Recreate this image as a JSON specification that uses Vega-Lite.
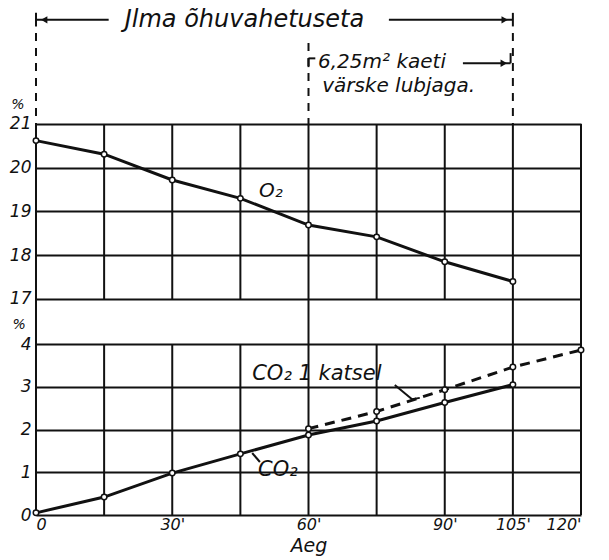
{
 "$schema": "https://vega.github.io/schema/vega-lite/v6.json",
 "width": 545,
 "height": 515,
 "autosize": "none",
 "padding": {"left": 36, "top": 0, "right": 28, "bottom": 45},
 "background": "white",
 "config": {
  "view": {"stroke": null},
  "text": {"font": "DejaVu Sans", "fontStyle": "italic", "color": "#111"},
  "axis": {"labelFont": "DejaVu Sans", "labelFontStyle": "italic", "labelColor": "#111", "labelFontSize": 16, "titleFont": "DejaVu Sans", "titleFontStyle": "italic", "titleColor": "#111", "domain": false, "ticks": false, "gridColor": "#111", "gridWidth": 2, "gridOpacity": 1}
 },
 "datasets": {
  "series": [
   {"series": "O2", "t": 0, "v": 20.62}, {"series": "O2", "t": 15, "v": 20.31}, {"series": "O2", "t": 30, "v": 19.72}, {"series": "O2", "t": 45, "v": 19.30},
   {"series": "O2", "t": 60, "v": 18.69}, {"series": "O2", "t": 75, "v": 18.42}, {"series": "O2", "t": 90, "v": 17.85}, {"series": "O2", "t": 105, "v": 17.40},
   {"series": "CO2", "t": 0, "v": 0.05}, {"series": "CO2", "t": 15, "v": 0.42}, {"series": "CO2", "t": 30, "v": 0.98}, {"series": "CO2", "t": 45, "v": 1.43},
   {"series": "CO2", "t": 60, "v": 1.87}, {"series": "CO2", "t": 75, "v": 2.2}, {"series": "CO2", "t": 90, "v": 2.63}, {"series": "CO2", "t": 105, "v": 3.05},
   {"series": "CO2 1 katsel", "t": 60, "v": 2.02}, {"series": "CO2 1 katsel", "t": 75, "v": 2.42}, {"series": "CO2 1 katsel", "t": 90, "v": 2.93},
   {"series": "CO2 1 katsel", "t": 105, "v": 3.46}, {"series": "CO2 1 katsel", "t": 120, "v": 3.86}
  ],
  "segs": [
   {"grp": "o2", "kind": "solid", "t": 0, "t2": 0, "v": 17, "v2": 21},
   {"grp": "o2", "kind": "solid", "t": 15, "t2": 15, "v": 17, "v2": 21},
   {"grp": "o2", "kind": "solid", "t": 30, "t2": 30, "v": 17, "v2": 21},
   {"grp": "o2", "kind": "solid", "t": 45, "t2": 45, "v": 17, "v2": 21},
   {"grp": "o2", "kind": "solid", "t": 60, "t2": 60, "v": 17, "v2": 21},
   {"grp": "o2", "kind": "solid", "t": 75, "t2": 75, "v": 17, "v2": 21},
   {"grp": "o2", "kind": "solid", "t": 90, "t2": 90, "v": 17, "v2": 21},
   {"grp": "o2", "kind": "solid", "t": 105, "t2": 105, "v": 17, "v2": 21},
   {"grp": "o2", "kind": "solid", "t": 120, "t2": 120, "v": 17, "v2": 21},
   {"grp": "o2", "kind": "solid", "t": 0, "t2": 0, "v": 15.97, "v2": 17},
   {"grp": "o2", "kind": "solid", "t": 60, "t2": 60, "v": 15.97, "v2": 17},
   {"grp": "o2", "kind": "solid", "t": 105, "t2": 105, "v": 15.97, "v2": 17},
   {"grp": "o2", "kind": "solid", "t": 120, "t2": 120, "v": 15.97, "v2": 17},
   {"grp": "o2", "kind": "solid", "t": 0, "t2": 0, "v": 23.23, "v2": 23.54},
   {"grp": "o2", "kind": "solid", "t": 105, "t2": 105, "v": 23.23, "v2": 23.54},
   {"grp": "o2", "kind": "solid", "t": 0, "t2": 16, "v": 23.38, "v2": 23.38},
   {"grp": "o2", "kind": "solid", "t": 77.7, "t2": 105, "v": 23.38, "v2": 23.38},
   {"grp": "o2", "kind": "solid", "t": 94, "t2": 104.5, "v": 22.39, "v2": 22.39},
   {"grp": "o2", "kind": "solid", "t": 104.5, "t2": 104.5, "v": 22.39, "v2": 22.62},
   {"grp": "o2", "kind": "solid", "t": 60, "t2": 60, "v": 22.3, "v2": 22.5},
   {"grp": "o2", "kind": "solid", "t": 60, "t2": 61.5, "v": 22.5, "v2": 22.5},
   {"grp": "o2", "kind": "dash", "t": 0, "t2": 0, "v": 23.08, "v2": 21},
   {"grp": "o2", "kind": "dash", "t": 60, "t2": 60, "v": 22.85, "v2": 21},
   {"grp": "o2", "kind": "dash", "t": 105, "t2": 105, "v": 23.08, "v2": 21},
   {"grp": "co2", "kind": "solid", "t": 0, "t2": 0, "v": 0, "v2": 4},
   {"grp": "co2", "kind": "solid", "t": 15, "t2": 15, "v": 0, "v2": 4},
   {"grp": "co2", "kind": "solid", "t": 30, "t2": 30, "v": 0, "v2": 4},
   {"grp": "co2", "kind": "solid", "t": 45, "t2": 45, "v": 0, "v2": 4},
   {"grp": "co2", "kind": "solid", "t": 60, "t2": 60, "v": 0, "v2": 4},
   {"grp": "co2", "kind": "solid", "t": 75, "t2": 75, "v": 0, "v2": 4},
   {"grp": "co2", "kind": "solid", "t": 90, "t2": 90, "v": 0, "v2": 4},
   {"grp": "co2", "kind": "solid", "t": 105, "t2": 105, "v": 0, "v2": 4},
   {"grp": "co2", "kind": "solid", "t": 120, "t2": 120, "v": 0, "v2": 4},
   {"grp": "co2", "kind": "solid", "t": 47.6, "t2": 49.3, "v": 1.45, "v2": 1.24},
   {"grp": "co2", "kind": "solid", "t": 79, "t2": 82.8, "v": 3.04, "v2": 2.71},
   {"grp": "co2", "kind": "solid", "t": 82.8, "t2": 84.5, "v": 2.71, "v2": 2.74}
  ],
  "texts": [
   {"grp": "o2", "kind": "title", "t": 45.9, "v": 23.22, "label": "Jlma õhuvahetuseta"},
   {"grp": "o2", "kind": "note", "t": 62.1, "v": 22.28, "label": "6,25m² kaeti"},
   {"grp": "o2", "kind": "note", "t": 63, "v": 21.73, "label": "värske lubjaga."},
   {"grp": "o2", "kind": "note", "t": 49.1, "v": 19.33, "label": "O₂"},
   {"grp": "o2", "kind": "pct", "t": -4, "v": 21.43, "label": "%"},
   {"grp": "co2", "kind": "note", "t": 47.6, "v": 3.16, "label": "CO₂ 1 katsel"},
   {"grp": "co2", "kind": "note", "t": 48.9, "v": 0.91, "label": "CO₂"},
   {"grp": "co2", "kind": "pct", "t": -3.7, "v": 4.45, "label": "%"}
  ],
  "heads": [
   {"t": 1.8, "v": 23.38, "dir": "left"},
   {"t": 103.2, "v": 23.38, "dir": "right"},
   {"t": 103.0, "v": 22.39, "dir": "right"}
  ]
 },
 "encoding": {
  "x": {"field": "t", "type": "quantitative", "scale": {"domain": [0, 120], "nice": false, "zero": false},
   "axis": {"values": [0, 30, 60, 90, 105, 120], "labelExpr": "datum.value == 0 ? '0' : datum.value + \"'\"", "grid": false, "labelPadding": 1, "labelDx": 3, "labelOverlap": false, "labelBound": false, "title": "Aeg", "titleFontSize": 19, "titleFontWeight": "normal", "titlePadding": 4}}
 },
 "layer": [
  {
   "encoding": {"y": {"field": "v", "type": "quantitative", "scale": {"domain": [12.063, 23.834], "nice": false, "zero": false},
     "axis": {"orient": "left", "values": [17, 18, 19, 20, 21], "grid": true, "labelPadding": 5, "labelFontSize": 17, "title": null}}},
   "layer": [
    {"data": {"name": "segs"}, "transform": [{"filter": "datum.grp == 'o2' && datum.kind == 'solid'"}], "mark": {"type": "rule", "color": "#111", "strokeWidth": 2}, "encoding": {"x2": {"field": "t2"}, "y2": {"field": "v2"}}},
    {"data": {"name": "segs"}, "transform": [{"filter": "datum.grp == 'o2' && datum.kind == 'dash'"}], "mark": {"type": "rule", "color": "#111", "strokeWidth": 2, "strokeDash": [8, 7]}, "encoding": {"x2": {"field": "t2"}, "y2": {"field": "v2"}}},
    {"data": {"name": "series"}, "transform": [{"filter": "datum.series == 'O2'"}], "mark": {"type": "line", "color": "#111", "strokeWidth": 3}, "encoding": {}},
    {"data": {"name": "series"}, "transform": [{"filter": "datum.series == 'O2'"}], "mark": {"type": "point", "shape": "circle", "filled": true, "fill": "white", "stroke": "#111", "strokeWidth": 1.5, "size": 30, "opacity": 1}, "encoding": {}},
    {"data": {"name": "heads"}, "mark": {"type": "point", "filled": true, "color": "#111", "size": 55, "opacity": 1}, "encoding": {"shape": {"field": "dir", "type": "nominal", "scale": {"domain": ["left", "right"], "range": ["triangle-left", "triangle-right"]}, "legend": null}}},
    {"data": {"name": "texts"}, "transform": [{"filter": "datum.grp == 'o2' && datum.kind == 'title'"}], "mark": {"type": "text", "align": "center", "baseline": "alphabetic", "fontSize": 24}, "encoding": {"text": {"field": "label"}}},
    {"data": {"name": "texts"}, "transform": [{"filter": "datum.grp == 'o2' && datum.kind == 'note'"}], "mark": {"type": "text", "align": "left", "baseline": "alphabetic", "fontSize": 20}, "encoding": {"text": {"field": "label"}}},
    {"data": {"name": "texts"}, "transform": [{"filter": "datum.grp == 'o2' && datum.kind == 'pct'"}], "mark": {"type": "text", "align": "center", "baseline": "middle", "fontSize": 14}, "encoding": {"text": {"field": "label"}}}
   ]
  },
  {
   "encoding": {"y": {"field": "v", "type": "quantitative", "scale": {"domain": [0, 12.047], "nice": false, "zero": false},
     "axis": {"orient": "left", "values": [0, 1, 2, 3, 4], "grid": true, "labelPadding": 5, "labelFontSize": 17, "title": null}}},
   "layer": [
    {"data": {"name": "segs"}, "transform": [{"filter": "datum.grp == 'co2'"}], "mark": {"type": "rule", "color": "#111", "strokeWidth": 2}, "encoding": {"x2": {"field": "t2"}, "y2": {"field": "v2"}}},
    {"data": {"name": "series"}, "transform": [{"filter": "datum.series == 'CO2'"}], "mark": {"type": "line", "color": "#111", "strokeWidth": 3}, "encoding": {}},
    {"data": {"name": "series"}, "transform": [{"filter": "datum.series == 'CO2 1 katsel'"}], "mark": {"type": "line", "color": "#111", "strokeWidth": 3, "strokeDash": [10, 7]}, "encoding": {}},
    {"data": {"name": "series"}, "transform": [{"filter": "datum.series != 'O2'"}], "mark": {"type": "point", "shape": "circle", "filled": true, "fill": "white", "stroke": "#111", "strokeWidth": 1.5, "size": 30, "opacity": 1}, "encoding": {}},
    {"data": {"name": "texts"}, "transform": [{"filter": "datum.grp == 'co2' && datum.kind == 'note'"}], "mark": {"type": "text", "align": "left", "baseline": "alphabetic", "fontSize": 21}, "encoding": {"text": {"field": "label"}}},
    {"data": {"name": "texts"}, "transform": [{"filter": "datum.grp == 'co2' && datum.kind == 'pct'"}], "mark": {"type": "text", "align": "center", "baseline": "middle", "fontSize": 14}, "encoding": {"text": {"field": "label"}}}
   ]
  }
 ],
 "resolve": {"scale": {"y": "independent"}, "axis": {"y": "independent"}}
}
